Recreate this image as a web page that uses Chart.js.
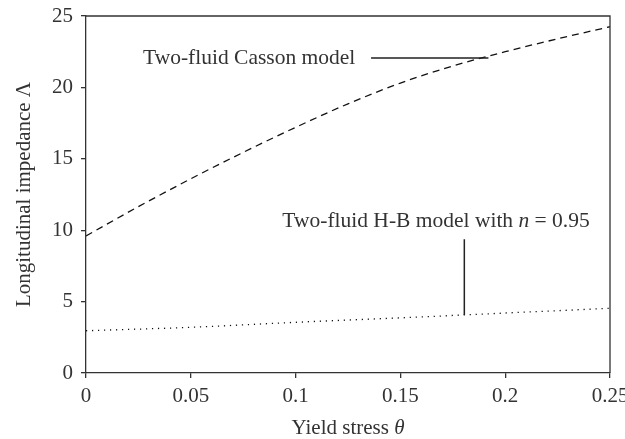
<!DOCTYPE html>
<html>
<head>
<meta charset="utf-8">
<script src="https://cdn.jsdelivr.net/npm/chart.js@4"></script>
<style>
html,body{margin:0;padding:0;background:#fff;}
#wrap{width:625px;height:439px;position:relative;}
</style>
</head>
<body>
<div id="wrap"><canvas id="c" width="625" height="439"></canvas></div>
<script>
const thetaCasson = [0, 0.025, 0.05, 0.075, 0.1, 0.125, 0.15, 0.175, 0.2, 0.225, 0.25];
const cassonValues = [9.6, 11.65, 13.6, 15.45, 17.2, 18.85, 20.3, 21.5, 22.5, 23.4, 24.25];
const thetaHB = [0, 0.05, 0.1, 0.15, 0.2, 0.25];
const hbValues = [2.96, 3.2, 3.55, 3.86, 4.2, 4.53];
const xTicks = [0, 0.05, 0.1, 0.15, 0.2, 0.25];
const yTicks = [0, 5, 10, 15, 20, 25];
const xTitle = ['Yield stress ', 'θ'];
const yTitle = 'Longitudinal impedance Λ';
const cassonLabel = 'Two-fluid Casson model';
const hbLabel = ['Two-fluid H-B model with ', 'n', ' = 0.95'];
// annotation anchors (data units)
const cassonTextAt = [0.0272, 22.06];
const cassonLine = [[0.136, 22.06], [0.192, 22.06]];
const hbTextAt = [0.167, 10.64];
const hbLine = [[0.1805, 9.36], [0.1805, 4.06]];

const FONT = '"Liberation Serif", "DejaVu Serif", serif';
const TXT = '#333';
const FS = 21;
const AFS = 21.5;

const framePlugin = {
  id: 'frame',
  afterDraw(chart) {
    const {ctx, chartArea: a, scales} = chart;
    const xs = scales.x, ys = scales.y;
    ctx.save();
    ctx.strokeStyle = '#333';
    ctx.lineWidth = 1.3;
    ctx.beginPath();
    ctx.moveTo(a.left, a.top);
    ctx.lineTo(a.right, a.top);
    ctx.lineTo(a.right, a.bottom);
    ctx.stroke();

    // annotation lines
    ctx.strokeStyle = '#222';
    ctx.lineWidth = 1.5;
    ctx.beginPath();
    ctx.moveTo(xs.getPixelForValue(cassonLine[0][0]), ys.getPixelForValue(cassonLine[0][1]));
    ctx.lineTo(xs.getPixelForValue(cassonLine[1][0]), ys.getPixelForValue(cassonLine[1][1]));
    ctx.moveTo(xs.getPixelForValue(hbLine[0][0]), ys.getPixelForValue(hbLine[0][1]));
    ctx.lineTo(xs.getPixelForValue(hbLine[1][0]), ys.getPixelForValue(hbLine[1][1]));
    ctx.stroke();

    ctx.fillStyle = TXT;
    ctx.textBaseline = 'middle';
    ctx.font = AFS + 'px ' + FONT;
    ctx.textAlign = 'left';
    ctx.fillText(cassonLabel, xs.getPixelForValue(cassonTextAt[0]), ys.getPixelForValue(cassonTextAt[1]));

    // mixed-style H-B label, centred
    const parts = [[hbLabel[0], 'normal'], [hbLabel[1], 'italic'], [hbLabel[2], 'normal']];
    let total = 0;
    parts.forEach(p => { ctx.font = p[1] + ' ' + AFS + 'px ' + FONT; total += ctx.measureText(p[0]).width; });
    let x = xs.getPixelForValue(hbTextAt[0]) - total / 2;
    const y = ys.getPixelForValue(hbTextAt[1]);
    parts.forEach(p => { ctx.font = p[1] + ' ' + AFS + 'px ' + FONT; ctx.fillText(p[0], x, y); x += ctx.measureText(p[0]).width; });

    // x axis title
    const tp = [[xTitle[0], 'normal'], [xTitle[1], 'italic']];
    total = 0;
    tp.forEach(p => { ctx.font = p[1] + ' ' + FS + 'px ' + FONT; total += ctx.measureText(p[0]).width; });
    x = (a.left + a.right) / 2 - total / 2;
    tp.forEach(p => { ctx.font = p[1] + ' ' + FS + 'px ' + FONT; ctx.fillText(p[0], x, 428); x += ctx.measureText(p[0]).width; });
    ctx.restore();
  }
};

new Chart(document.getElementById('c'), {
  type: 'line',
  data: {
    datasets: [
      {
        label: 'Casson',
        data: thetaCasson.map((t, i) => ({x: t, y: cassonValues[i]})),
        borderColor: '#111',
        borderWidth: 1.3,
        borderDash: [7, 5],
        pointRadius: 0,
        cubicInterpolationMode: 'monotone',
        fill: false
      },
      {
        label: 'H-B',
        data: thetaHB.map((t, i) => ({x: t, y: hbValues[i]})),
        borderColor: '#111',
        borderWidth: 1.3,
        borderDash: [1.2, 4.8],
        pointRadius: 0,
        cubicInterpolationMode: 'monotone',
        fill: false
      }
    ]
  },
  options: {
    responsive: false,
    animation: false,
    layout: {padding: {left: 12, right: 15, top: 16, bottom: 0}},
    plugins: {legend: {display: false}, tooltip: {enabled: false}},
    scales: {
      x: {
        type: 'linear',
        min: 0, max: 0.25,
        afterBuildTicks(s) { s.ticks = xTicks.map(v => ({value: v})); },
        afterFit(s) { s.height = 66; s.paddingLeft = 0; s.paddingRight = 0; },
        grid: {drawOnChartArea: false, drawTicks: true, tickLength: 5, color: '#333', lineWidth: 1.3},
        border: {display: true, color: '#333', width: 1.3},
        ticks: {color: TXT, font: {family: FONT, size: FS}, padding: 6, maxRotation: 0,
          callback: v => String(v)}
      },
      y: {
        min: 0, max: 25,
        afterBuildTicks(s) { s.ticks = yTicks.map(v => ({value: v})); },
        afterFit(s) { s.width = 74; s.paddingTop = 0; s.paddingBottom = 0; },
        grid: {drawOnChartArea: false, drawTicks: true, tickLength: 5, color: '#333', lineWidth: 1.3},
        border: {display: true, color: '#333', width: 1.3},
        ticks: {color: TXT, font: {family: FONT, size: FS}, padding: 8},
        title: {display: true, text: yTitle, color: TXT, font: {family: FONT, size: FS}, padding: {top: 0, bottom: 4}}
      }
    }
  },
  plugins: [framePlugin]
});
</script>
</body>
</html>
